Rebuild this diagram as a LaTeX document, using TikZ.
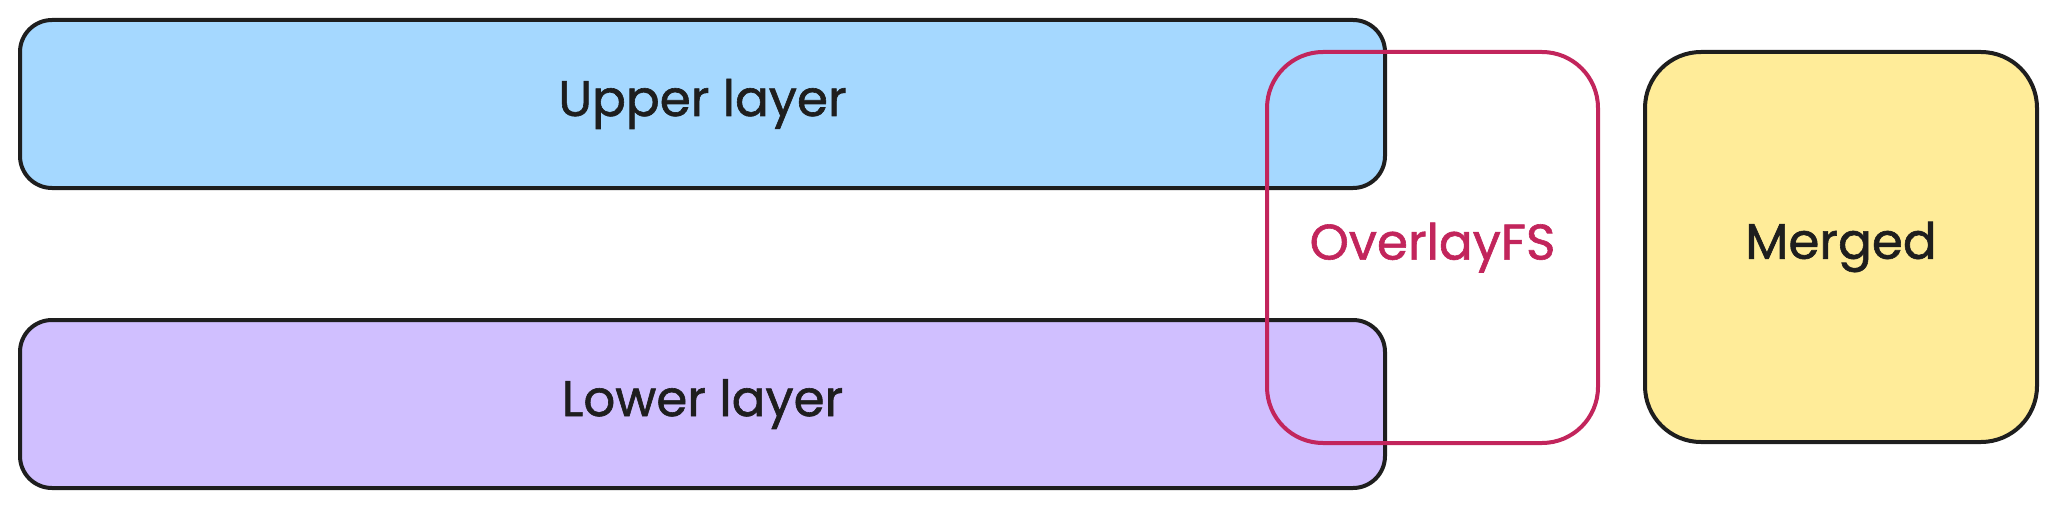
\documentclass[tikz,border=0pt]{standalone}
\usepackage{fontspec}
\setmainfont{Poppins}
\newfontfamily\handfont{Poppins}[FakeBold=1.2]
\definecolor{inkc}{HTML}{1E1E1E}
\definecolor{bluef}{HTML}{A5D8FF}
\definecolor{violetf}{HTML}{D0BFFF}
\definecolor{yellowf}{HTML}{FFEC99}
\definecolor{pinkc}{HTML}{C2255C}
\begin{document}
\begin{tikzpicture}[x=0.5pt,y=-0.5pt,
  lbl/.style={font=\handfont\fontsize{25}{30}\selectfont},
  layerbox/.style={draw=inkc, line width=2pt, rounded corners=16pt,
    minimum width=682.5pt, minimum height=84pt, inner sep=0pt, lbl, text=inkc},
  ovbox/.style={draw=pinkc, line width=2pt, rounded corners=28pt,
    minimum width=165.5pt, minimum height=195.5pt, inner sep=0pt, lbl, text=pinkc},
  mergedbox/.style={draw=inkc, fill=yellowf, line width=2pt, rounded corners=28pt,
    minimum width=196pt, minimum height=195pt, inner sep=0pt, lbl, text=inkc}]
\useasboundingbox (0,0) rectangle (2056,508);
\node[layerbox, fill=bluef] (upper) at (702.5,104) {Upper layer};
\node[layerbox, fill=violetf] (lower) at (702.5,404) {Lower layer};
\node[ovbox] (overlay) at (1432.5,247.5) {OverlayFS};
\node[mergedbox] (merged) at (1841,247) {Merged};
\end{tikzpicture}
\end{document}
